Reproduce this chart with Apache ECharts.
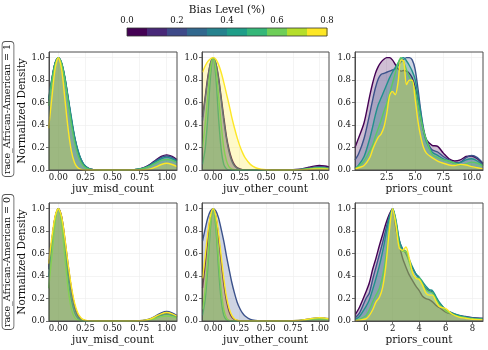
<!DOCTYPE html>
<html><head><meta charset="utf-8">
<script src="https://cdn.jsdelivr.net/npm/echarts@6/dist/echarts.min.js"></script>
<style>html,body{margin:0;padding:0;background:#fff}#c{width:488px;height:350px}</style>
</head><body><div id="c"></div>
<script>
const SERIF = '"DejaVu Serif", serif';
const biasLevels = [0.0, 0.2, 0.4, 0.6, 0.8];
const lineColors = ['#440154', '#3b528b', '#21918c', '#5ec962', '#fde725'];
const cbarEdges = [0, 0.08, 0.16, 0.24, 0.32, 0.40, 0.48, 0.56, 0.64, 0.72, 0.80];
const cbarColors = ['#440154', '#482878', '#3e4a89', '#31688e', '#26828e', '#1f9e89', '#35b779', '#6ece58', '#b5de2b', '#fde725'];
const cbarTicks = [0.0, 0.2, 0.4, 0.6, 0.8];
const features = ['juv_misd_count', 'juv_other_count', 'priors_count'];
const rowLabels = ['race_African-American = 1', 'race_African-American = 0'];
const yTicks = [0.0, 0.2, 0.4, 0.6, 0.8, 1.0];
const xTicksJuv = [0.0, 0.25, 0.5, 0.75, 1.0];
const xTicksPriors1 = [2.5, 5.0, 7.5, 10.0];
const xTicksPriors0 = [0, 2, 4, 6, 8];

// x grids
const xMisd = [-0.09,-0.06,-0.03,0,0.03,0.06,0.09,0.12,0.15,0.18,0.21,0.24,0.27,0.30,0.35,0.40,0.50,0.60,0.70,0.75,0.80,0.85,0.90,0.95,1.00,1.05,1.095];
const xOther = [-0.10,-0.075,-0.05,-0.025,0,0.025,0.05,0.075,0.10,0.125,0.15,0.175,0.20,0.225,0.25,0.275,0.30,0.35,0.40,0.45,0.50,0.60,0.70,0.80,0.85,0.90,0.95,1.00,1.05,1.09];
const xPriors1 = [-0.3,0,0.5,1,1.25,1.5,1.75,2,2.25,2.5,2.75,3,3.25,3.5,3.75,4,4.25,4.5,4.75,5,5.25,5.5,5.75,6,6.5,7,7.5,8,8.5,9,9.5,10,10.5,11];
const xPriors0 = [-0.8,-0.5,0,0.25,0.5,0.75,1,1.25,1.5,1.75,2,2.25,2.5,2.75,3,3.25,3.5,3.75,4,4.25,4.5,4.75,5,5.25,5.5,6,6.5,7,7.5,8,8.8];

// race = 1, juv_misd_count (bias 0.0 .. 0.8)
const aa1Misd = [
  [0.61,0.80,0.95,1.00,0.95,0.82,0.64,0.45,0.29,0.17,0.09,0.04,0.018,0.007,0.001,0,0,0,0.003,0.010,0.026,0.053,0.089,0.122,0.135,0.122,0.093],
  [0.61,0.80,0.95,1.00,0.95,0.82,0.64,0.45,0.29,0.17,0.09,0.04,0.018,0.007,0.001,0,0,0,0.003,0.0095,0.024,0.049,0.083,0.113,0.125,0.113,0.086],
  [0.63,0.81,0.95,1.00,0.955,0.83,0.65,0.47,0.30,0.18,0.095,0.045,0.02,0.008,0.001,0,0,0,0.003,0.0085,0.021,0.044,0.074,0.10,0.112,0.10,0.077],
  [0.57,0.78,0.94,1.00,0.946,0.80,0.607,0.411,0.249,0.135,0.066,0.029,0.011,0.004,0.001,0,0,0,0.002,0.007,0.018,0.037,0.062,0.085,0.094,0.085,0.065],
  [0.37,0.64,0.90,1.00,0.90,0.64,0.37,0.17,0.064,0.019,0.005,0.001,0,0,0,0,0,0,0,0.0005,0.003,0.01,0.027,0.049,0.06,0.049,0.03]
];
// race = 1, juv_other_count
const aa1Other = [
  [0.47,0.65,0.83,0.95,1,0.95,0.83,0.65,0.47,0.30,0.18,0.097,0.047,0.021,0.009,0.003,0.001,0,0,0,0,0,0.0004,0.005,0.013,0.024,0.035,0.04,0.035,0.027],
  [0.44,0.63,0.81,0.95,1,0.95,0.81,0.63,0.44,0.28,0.16,0.08,0.037,0.016,0.006,0.002,0.001,0,0,0,0,0,0.0003,0.004,0.01,0.018,0.026,0.03,0.026,0.02],
  [0.05,0.19,0.475,0.83,1,0.83,0.475,0.19,0.05,0.01,0.001,0,0,0,0,0,0,0,0,0,0,0,0.0002,0.002,0.005,0.009,0.013,0.015,0.013,0.01],
  [0.20,0.41,0.67,0.905,1,0.905,0.67,0.41,0.20,0.083,0.028,0.008,0.002,0,0,0,0,0,0,0,0,0,0.0002,0.003,0.0065,0.012,0.018,0.02,0.018,0.013],
  [0.87,0.925,0.966,0.99,1,0.985,0.94,0.87,0.78,0.68,0.58,0.47,0.376,0.29,0.217,0.157,0.11,0.05,0.02,0.007,0.002,0,0.0001,0.0014,0.003,0.006,0.009,0.01,0.009,0.007]
];
// race = 1, priors_count
const aa1Priors = [
  [0.20,0.28,0.42,0.66,0.77,0.86,0.92,0.96,0.985,1.0,1.0,0.98,0.94,0.90,0.88,0.885,0.88,0.86,0.82,0.74,0.61,0.47,0.35,0.27,0.22,0.21,0.15,0.10,0.08,0.09,0.12,0.125,0.10,0.05],
  [0.09,0.14,0.28,0.50,0.62,0.73,0.81,0.85,0.86,0.87,0.88,0.89,0.90,0.93,0.96,0.985,1.0,1.0,0.98,0.90,0.73,0.53,0.37,0.27,0.18,0.16,0.12,0.09,0.065,0.07,0.11,0.13,0.11,0.06],
  [0.015,0.04,0.12,0.28,0.38,0.49,0.58,0.64,0.70,0.76,0.82,0.87,0.91,0.95,0.99,1.0,0.97,0.93,0.88,0.81,0.67,0.51,0.35,0.25,0.16,0.13,0.10,0.08,0.06,0.065,0.09,0.10,0.08,0.04],
  [0.015,0.03,0.08,0.17,0.22,0.30,0.37,0.44,0.52,0.59,0.68,0.77,0.86,0.95,1.0,0.96,0.89,0.83,0.78,0.71,0.59,0.46,0.35,0.27,0.14,0.11,0.09,0.08,0.06,0.045,0.055,0.07,0.06,0.035],
  [0.01,0.02,0.04,0.11,0.18,0.24,0.29,0.32,0.38,0.50,0.66,0.70,0.67,0.78,0.98,0.97,0.76,0.80,0.80,0.64,0.44,0.30,0.20,0.15,0.11,0.08,0.06,0.045,0.04,0.05,0.045,0.03,0.02,0.01]
];
// race = 0, juv_misd_count
const aa0Misd = [
  [0.47,0.71,0.92,1.00,0.93,0.73,0.50,0.29,0.14,0.058,0.02,0.006,0.002,0,0,0,0,0,0.0003,0.0014,0.0055,0.016,0.035,0.056,0.065,0.056,0.037],
  [0.46,0.71,0.92,1.00,0.92,0.71,0.46,0.25,0.114,0.044,0.014,0.004,0.001,0,0,0,0,0,0.0003,0.0018,0.0072,0.021,0.046,0.073,0.085,0.073,0.049],
  [0.39,0.66,0.90,1.00,0.90,0.66,0.39,0.19,0.076,0.024,0.006,0.001,0,0,0,0,0,0,0.0002,0.0013,0.0051,0.015,0.032,0.051,0.06,0.051,0.034],
  [0.29,0.57,0.87,1.00,0.87,0.57,0.29,0.11,0.031,0.007,0.001,0,0,0,0,0,0,0,0.0002,0.0009,0.0038,0.011,0.024,0.039,0.045,0.039,0.026],
  [0.51,0.74,0.93,1.00,0.93,0.74,0.51,0.31,0.16,0.07,0.027,0.009,0.003,0.001,0,0,0,0,0.0003,0.0016,0.0064,0.019,0.041,0.064,0.075,0.064,0.043]
];
// race = 0, juv_other_count
const aa0Other = [
  [0.295,0.50,0.74,0.93,1,0.93,0.75,0.53,0.33,0.18,0.085,0.035,0.013,0.004,0.001,0,0,0,0,0,0,0,0.0002,0.003,0.0065,0.012,0.018,0.02,0.018,0.013],
  [0.71,0.82,0.92,0.98,1,0.98,0.92,0.82,0.71,0.58,0.46,0.345,0.25,0.17,0.114,0.072,0.044,0.014,0.004,0.001,0,0,0.0003,0.004,0.01,0.018,0.026,0.03,0.026,0.02],
  [0.05,0.19,0.475,0.83,1,0.83,0.475,0.19,0.05,0.01,0.001,0,0,0,0,0,0,0,0,0,0,0,0.0002,0.002,0.005,0.009,0.013,0.015,0.013,0.01],
  [0.104,0.28,0.57,0.87,1,0.87,0.57,0.28,0.104,0.029,0.006,0.001,0,0,0,0,0,0,0,0,0,0,0.0002,0.003,0.0065,0.012,0.018,0.02,0.018,0.013],
  [0.38,0.58,0.79,0.94,1,0.94,0.79,0.58,0.38,0.22,0.114,0.052,0.021,0.008,0.002,0,0,0,0,0,0,0,0.0003,0.004,0.01,0.018,0.026,0.03,0.026,0.02]
];
// race = 0, priors_count
const aa0Priors = [
  [0.06,0.12,0.26,0.34,0.46,0.56,0.67,0.77,0.87,0.95,1.0,0.82,0.68,0.56,0.48,0.41,0.36,0.31,0.27,0.22,0.20,0.19,0.17,0.14,0.12,0.08,0.06,0.045,0.035,0.03,0.02],
  [0.03,0.07,0.20,0.25,0.37,0.48,0.59,0.70,0.82,0.93,1.0,0.88,0.72,0.64,0.60,0.53,0.47,0.42,0.38,0.33,0.29,0.27,0.26,0.21,0.16,0.10,0.07,0.05,0.04,0.03,0.025],
  [0.015,0.04,0.13,0.19,0.28,0.38,0.49,0.62,0.77,0.92,1.0,0.90,0.72,0.64,0.62,0.55,0.48,0.42,0.39,0.35,0.31,0.28,0.27,0.22,0.17,0.10,0.07,0.05,0.035,0.025,0.02],
  [0.005,0.015,0.05,0.10,0.17,0.23,0.29,0.40,0.58,0.84,1.0,0.88,0.68,0.62,0.62,0.52,0.43,0.38,0.38,0.33,0.28,0.26,0.25,0.20,0.15,0.09,0.06,0.04,0.03,0.02,0.015],
  [0.003,0.008,0.02,0.05,0.10,0.17,0.21,0.30,0.50,0.80,1.0,0.85,0.65,0.63,0.66,0.56,0.43,0.38,0.37,0.32,0.25,0.23,0.23,0.18,0.13,0.11,0.06,0.035,0.025,0.015,0.01]
];

const panels = [
  {xs: xMisd,    ys: aa1Misd,   xmin: -0.086, xmax: 1.095, ticks: xTicksJuv,     fmt: v => v.toFixed(2), name: features[0], left: 49,  top: 52,  w: 128, h: 118},
  {xs: xOther,   ys: aa1Other,  xmin: -0.105, xmax: 1.09,  ticks: xTicksJuv,     fmt: v => v.toFixed(2), name: features[1], left: 202, top: 52,  w: 127, h: 118},
  {xs: xPriors1, ys: aa1Priors, xmin: -0.3,   xmax: 11.0,  ticks: xTicksPriors1, fmt: v => v.toFixed(1), name: features[2], left: 355, top: 52,  w: 128, h: 118},
  {xs: xMisd,    ys: aa0Misd,   xmin: -0.086, xmax: 1.095, ticks: xTicksJuv,     fmt: v => v.toFixed(2), name: features[0], left: 49,  top: 203, w: 128, h: 118},
  {xs: xOther,   ys: aa0Other,  xmin: -0.105, xmax: 1.09,  ticks: xTicksJuv,     fmt: v => v.toFixed(2), name: features[1], left: 202, top: 203, w: 127, h: 118},
  {xs: xPriors0, ys: aa0Priors, xmin: -0.83,  xmax: 8.8,   ticks: xTicksPriors0, fmt: v => String(Math.round(v)), name: features[2], left: 355, top: 203, w: 128, h: 118}
];

const TXT = '#111';
const FRAME = '#4d4d4d';
const grids = [], xAxes = [], yAxes = [], series = [];
panels.forEach((p, gi) => {
  grids.push({left: p.left, top: p.top, width: p.w, height: p.h, show: true, z: 10,
    backgroundColor: 'transparent', borderColor: FRAME, borderWidth: 1});
  xAxes.push({type: 'value', gridIndex: gi, min: p.xmin, max: p.xmax,
    name: p.name, nameLocation: 'middle', nameGap: 14,
    nameTextStyle: {fontFamily: SERIF, fontSize: 10.5, color: TXT},
    axisLine: {show: true, onZero: false, lineStyle: {color: FRAME, width: 1}},
    axisTick: {show: true, customValues: p.ticks, length: 3, lineStyle: {color: FRAME, width: 0.8}},
    axisLabel: {customValues: p.ticks, formatter: v => p.fmt(v), fontFamily: SERIF, fontSize: 8.5, color: TXT, margin: 3},
    splitLine: {show: true, lineStyle: {color: '#ececec', width: 0.6}}
  });
  yAxes.push({type: 'value', gridIndex: gi, min: 0, max: 1.05,
    name: gi % 3 === 0 ? 'Normalized Density' : '', nameLocation: 'middle', nameGap: 20,
    nameTextStyle: {fontFamily: SERIF, fontSize: 10.5, color: TXT},
    axisLine: {show: true, onZero: false, lineStyle: {color: FRAME, width: 1}},
    axisTick: {show: true, customValues: yTicks, length: 3, lineStyle: {color: FRAME, width: 0.8}},
    axisLabel: {customValues: yTicks, formatter: v => v.toFixed(1), fontFamily: SERIF, fontSize: 8.5, color: TXT, margin: 4},
    splitLine: {show: true, lineStyle: {color: '#ececec', width: 0.6}}
  });
  p.ys.forEach((vals, i) => {
    series.push({type: 'line', name: 'bias ' + biasLevels[i], xAxisIndex: gi, yAxisIndex: gi,
      data: p.xs.map((x, k) => [x, vals[k]]),
      smooth: 0.3, symbol: 'none', clip: true, z: 2 + i,
      lineStyle: {color: lineColors[i], width: 1.4},
      areaStyle: {color: lineColors[i], opacity: 0.25},
      silent: true, animation: false});
  });
});

// colorbar grid
const cbi = panels.length;
grids.push({left: 127, top: 28, width: 200, height: 8, show: true, z: 10,
  backgroundColor: 'transparent', borderColor: '#333', borderWidth: 0.8});
xAxes.push({type: 'value', gridIndex: cbi, min: 0, max: 0.8, position: 'top', z: 6,
  axisLine: {show: false},
  axisTick: {show: true, inside: true, customValues: cbarTicks, length: 8, lineStyle: {color: 'rgba(255,255,255,0.35)', width: 0.8}},
  axisLabel: {customValues: cbarTicks, formatter: v => v.toFixed(1), fontFamily: SERIF, fontSize: 8.5, color: TXT, margin: 3},
  splitLine: {show: false}});
yAxes.push({type: 'value', gridIndex: cbi, min: 0, max: 1, show: false});
series.push({type: 'custom', xAxisIndex: cbi, yAxisIndex: cbi, silent: true, animation: false,
  data: cbarColors.map((c, i) => [cbarEdges[i], cbarEdges[i + 1]]),
  renderItem: (params, api) => {
    const a = api.coord([api.value(0), 0]);
    const b = api.coord([api.value(1), 1]);
    return {type: 'rect', shape: {x: a[0], y: b[1], width: b[0] - a[0] + 0.5, height: a[1] - b[1]},
      style: {fill: cbarColors[params.dataIndex]}};
  }});

const chart = echarts.init(document.getElementById('c'), null, {renderer: 'canvas'});
chart.setOption({
  animation: false,
  backgroundColor: '#fff',
  grid: grids, xAxis: xAxes, yAxis: yAxes, series: series,
  graphic: [
    {type: 'text', x: 227, y: 10, style: {text: 'Bias Level (%)', font: '10.5px ' + SERIF, fill: TXT, align: 'center', verticalAlign: 'middle'}},
    {type: 'text', x: 8, y: 109, rotation: Math.PI / 2, style: {text: rowLabels[0], font: '9.5px ' + SERIF, fill: TXT, align: 'center', verticalAlign: 'middle',
      backgroundColor: '#fff', borderColor: '#555', borderWidth: 0.8, borderRadius: 3, padding: [1, 2, 0, 2]}},
    {type: 'text', x: 8, y: 262, rotation: Math.PI / 2, style: {text: rowLabels[1], font: '9.5px ' + SERIF, fill: TXT, align: 'center', verticalAlign: 'middle',
      backgroundColor: '#fff', borderColor: '#555', borderWidth: 0.8, borderRadius: 3, padding: [1, 2, 0, 2]}}
  ]
});
</script></body></html>
